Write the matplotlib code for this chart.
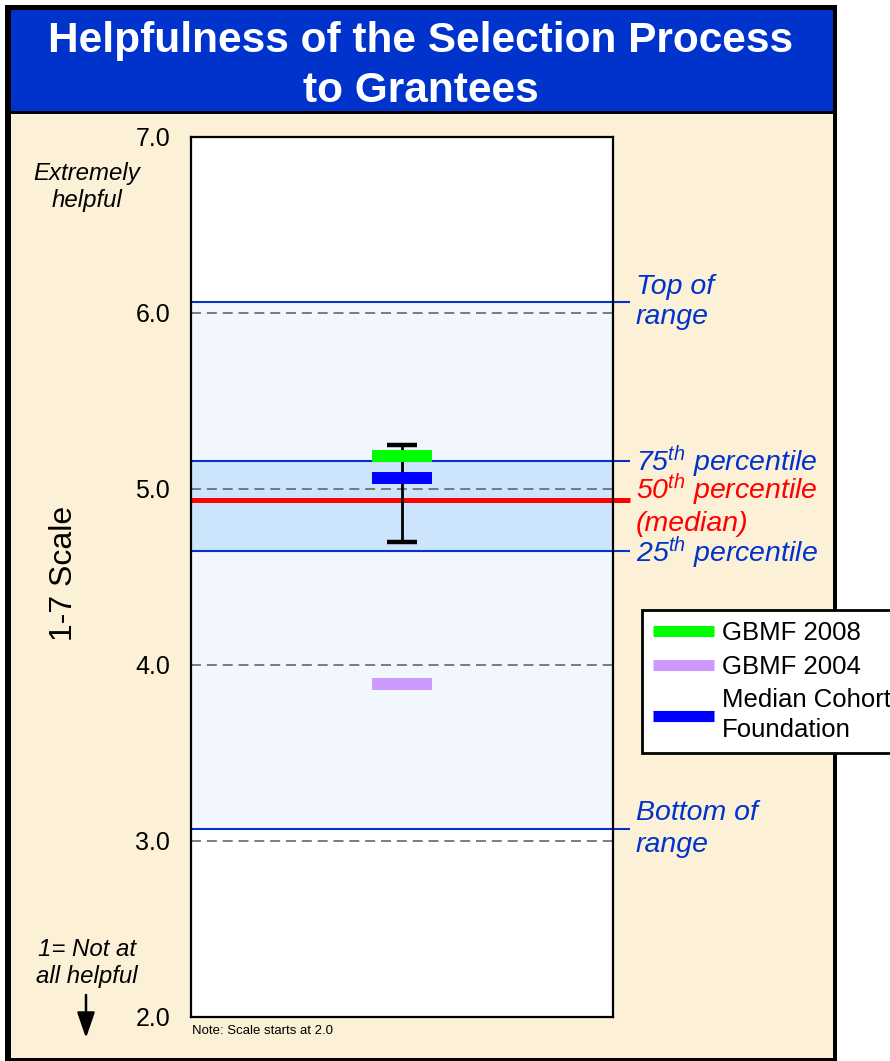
import matplotlib
matplotlib.use("Agg")
import matplotlib.pyplot as plt
from matplotlib.patches import Rectangle, FancyArrowPatch
from matplotlib.lines import Line2D

plt.rcParams['font.family'] = ['Liberation Sans', 'DejaVu Sans']
plt.rcParams['mathtext.fontset'] = 'custom'
plt.rcParams['mathtext.rm'] = 'Liberation Sans'
plt.rcParams['mathtext.it'] = 'Liberation Sans:italic'

# ---- data ----
title = "Helpfulness of the Selection Process\nto Grantees"
series_names = ["GBMF 2008", "GBMF 2004", "Median Cohort\nFoundation"]
series_values = [5.19, 3.89, 5.06]
series_colors = ["#00FF00", "#CC99FF", "#0000FF"]
range_bottom, range_top = 3.07, 6.06
pct25, pct50, pct75 = 4.65, 4.94, 5.16
errbar_low, errbar_high = 4.70, 5.25
yticks = [2.0, 3.0, 4.0, 5.0, 6.0, 7.0]
ytick_labels = ["2.0", "3.0", "4.0", "5.0", "6.0", "7.0"]
gridlines = [3.0, 4.0, 5.0, 6.0]

W, H = 890, 1061
fig = plt.figure(figsize=(W / 100, H / 100), dpi=100)
fig.patch.set_facecolor("white")

def fx(px):
    return px / W

def fy(py):
    return 1 - py / H

BEIGE = "#FCF1D6"
TITLE_BLUE = "#0033CC"
LINE_BLUE = "#0033CC"

# outer frame and panels
fig.add_artist(Rectangle((fx(5), fy(1061)), fx(832), 1061 / H - 5 / H,
                         transform=fig.transFigure, facecolor="black",
                         edgecolor="none", zorder=-2))
fig.add_artist(Rectangle((fx(11), fy(1058)), fx(822), (1058 - 114) / H,
                         transform=fig.transFigure, facecolor=BEIGE,
                         edgecolor="none", zorder=-1.5))
fig.add_artist(Rectangle((fx(11), fy(111)), fx(822), (111 - 10) / H,
                         transform=fig.transFigure, facecolor=TITLE_BLUE,
                         edgecolor="none", zorder=-1.5))

fig.text(fx(421), fy(66), title, ha="center", va="center", color="white",
         fontsize=30.5, fontweight="bold", linespacing=1.32)

# ---- axes ----
ax = fig.add_axes([fx(191), fy(1017), fx(613) - fx(191), (1017 - 137) / H])
ax.set_zorder(1)
ax.set_facecolor("white")
ax.set_xlim(0, 1)
ax.set_ylim(2.0, 7.0)
ax.set_xticks([])
ax.set_yticks(yticks)
ax.set_yticklabels(ytick_labels, fontsize=18)
ax.tick_params(axis="y", length=0, pad=15)
for s in ax.spines.values():
    s.set_linewidth(1.6)
    s.set_color("black")
    s.set_zorder(10)

# range and interquartile bands
ax.axhspan(range_bottom, range_top, facecolor="#F2F7FE", edgecolor=LINE_BLUE,
           linewidth=1.2, zorder=1)
ax.axhspan(pct25, pct75, facecolor="#CCE5FC", edgecolor="none", zorder=1.5)

for g in gridlines:
    ax.axhline(g, color="#666666", linewidth=1.2, linestyle=(0, (6, 3.5)),
               zorder=2)

ext = (630 - 191) / 422
for yv in [range_top, pct75, pct25, range_bottom]:
    ax.plot([0, ext], [yv, yv], color=LINE_BLUE, linewidth=1.5,
            clip_on=False, zorder=3, solid_capstyle="butt")
ax.plot([0, ext], [pct50, pct50], color="#FF0000", linewidth=3.6,
        clip_on=False, zorder=3.5, solid_capstyle="butt")

# error bar
xc = 0.5
ax.errorbar([xc], [(errbar_low + errbar_high) / 2],
            yerr=[[(errbar_high - errbar_low) / 2], [(errbar_high - errbar_low) / 2]],
            fmt="none", ecolor="black", elinewidth=2.0, capsize=11,
            capthick=3.2, zorder=4)

# series markers
half_w = 0.072
for v, c in zip(series_values, series_colors):
    ax.plot([xc - half_w, xc + half_w], [v, v], color=c, linewidth=8.6,
            solid_capstyle="butt", zorder=5)

# ---- side texts ----
fig.text(fx(64), fy(573), "1-7 Scale", rotation=90, ha="center", va="center",
         fontsize=23)
fig.text(fx(87), fy(187), "Extremely\nhelpful", ha="center", va="center",
         fontsize=17.3, fontstyle="italic", linespacing=1.2)
fig.text(fx(87), fy(963), "1= Not at\nall helpful", ha="center", va="center",
         fontsize=17.3, fontstyle="italic", linespacing=1.2)
fig.add_artist(FancyArrowPatch(
    (fx(86), fy(995)), (fx(86), fy(1038)), transform=fig.transFigure,
    arrowstyle="-|>,head_length=1.3,head_width=0.45", color="black",
    linewidth=1.8, mutation_scale=12, shrinkA=0, shrinkB=0))
fig.text(fx(192), fy(1031), "Note: Scale starts at 2.0", ha="left",
         va="center", fontsize=9.5)

ann_x = fx(636)
fig.text(ann_x, fy(302), "Top of\nrange", ha="left", va="center",
         fontsize=20.5, fontstyle="italic", color=LINE_BLUE, linespacing=1.25)
fig.text(ann_x, fy(462), r"75$^{th}$ percentile", ha="left", va="center",
         fontsize=20.5, fontstyle="italic", color=LINE_BLUE)
fig.text(ann_x, fy(504), "50$^{th}$ percentile\n(median)", ha="left",
         va="center", fontsize=20.5, fontstyle="italic", color="#FF0000",
         linespacing=1.15)
fig.text(ann_x, fy(553), r"25$^{th}$ percentile", ha="left", va="center",
         fontsize=20.5, fontstyle="italic", color=LINE_BLUE)
fig.text(ann_x, fy(829), "Bottom of\nrange", ha="left", va="center",
         fontsize=20.5, fontstyle="italic", color=LINE_BLUE, linespacing=1.25)

# ---- legend ----
handles = [Line2D([0], [0], color=c, linewidth=8, solid_capstyle="butt")
           for c in series_colors]
leg = fig.legend(handles, series_names, loc="upper left",
                 bbox_to_anchor=(fx(642), fy(610)), frameon=True,
                 fancybox=False, fontsize=18.5, handlelength=2.4,
                 handletextpad=0.3, labelspacing=0.38, borderpad=0.42,
                 borderaxespad=0)
leg.get_frame().set_edgecolor("black")
leg.get_frame().set_linewidth(2)
leg.get_frame().set_facecolor("white")
leg.get_frame().set_alpha(1)
for t in leg.get_texts():
    t.set_linespacing(1.3)
leg.set_zorder(20)

fig.savefig("out.png", dpi=100)
